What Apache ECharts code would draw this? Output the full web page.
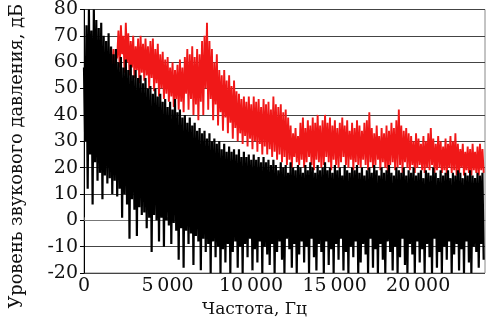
<!DOCTYPE html>
<html>
<head>
<meta charset="utf-8">
<script src="https://cdn.jsdelivr.net/npm/echarts@6/dist/echarts.min.js"></script>
<style>
html,body{margin:0;padding:0;background:#fff;}
#chart{width:493px;height:323px;}
</style>
</head>
<body>
<div id="chart"></div>
<script>
// Frequency bin spacing (Hz) between successive spectrum samples
const binHz = 73.6;
const redStartHz = 1620;

// Black spectrum: alternating local maxima / minima (dB)
const blackPeaks = [
  58,74,80,72,80,76,73,75,70,68,
  71,66,63,65,60,62,58,61,57,59,
  55,57,54,55,52,54,50,51,48,50,
  47,48,45,46,43,45,42,46,41,42,
  39,40,37,39,36,37,34,35,33,34,
  31,33,30,31,29,30,27,29,26,28,
  26,27,25,27,24,26,24,25,23,25,
  23,24,22,24,22,23,21,23,21,19,
  22,20,21,18,22,20,19,21,20,18,
  21,19,22,20,18,21,19,20,22,19,
  20,18,21,19,20,17,21,19,18,20,
  19,21,18,20,17,19,20,18,21,19,
  17,20,18,19,21,18,17,20,19,18,
  20,17,19,18,20,17,18,19,16,19,
  18,17,20,18,16,19,17,18,19,16,
  18,17,19,18,16,18,17,19,17,16,
  18,17,18
];
const blackDips = [
  30,12,25,6,22,15,18,8,17,14,
  16,10,15,9,12,1,10,6,-7,8,
  4,-6,5,2,3,-3,1,-12,2,0,
  -8,1,-10,0,-2,-9,-1,-4,-15,-3,
  -18,-4,-9,-5,-17,-6,-8,-19,-7,-12,
  -9,-20,-8,-14,-10,-20,-11,-16,-9,-20,
  -12,-8,-18,-10,-20,-9,-14,-7,-19,-11,
  -16,-8,-20,-10,-13,-17,-9,-20,-12,-8,
  -15,-20,-7,-11,-18,-9,-20,-13,-8,-16,
  -10,-20,-7,-14,-19,-9,-12,-20,-8,-17,
  -11,-20,-9,-15,-7,-19,-12,-20,-10,-14,
  -8,-20,-16,-9,-13,-20,-7,-18,-11,-20,
  -9,-15,-20,-8,-12,-19,-10,-20,-14,-7,
  -17,-20,-9,-13,-20,-8,-16,-11,-20,-9,
  -14,-20,-7,-18,-12,-20,-10,-15,-8,-20,
  -13,-9,-19,-11,-20,-8,-16,-20,-10,-12,
  -18,-9,-15
];

// Red spectrum: alternating local maxima / minima (dB), starting at redStartHz
const redPeaks = [
  62,65,61,72,74,70,75,71,68,70,
  66,69,70,67,69,66,68,69,65,67,
  63,64,61,62,58,60,57,59,61,58,
  62,65,63,66,62,65,63,68,70,75,
  68,65,60,63,57,55,57,53,55,51,
  53,49,48,46,47,45,47,44,47,45,
  46,43,46,44,45,42,47,44,43,44,
  41,42,39,36,33,35,32,37,39,35,
  38,36,39,37,40,36,38,40,37,39,
  36,38,35,37,39,36,38,34,37,35,
  38,36,34,37,38,41,35,33,36,32,
  35,33,36,34,37,35,38,42,36,34,
  35,33,32,30,33,31,29,32,30,33,
  35,31,29,32,30,28,31,29,32,30,
  33,29,27,29,26,28,27,29,26,28,
  29,27
];
const redDips = [
  58,55,62,58,63,56,60,55,58,54,
  57,52,56,53,55,50,54,49,52,47,
  50,46,48,45,47,43,46,42,45,41,
  48,42,46,40,44,38,45,40,50,42,
  46,38,44,36,41,34,39,33,37,31,
  35,30,33,29,32,28,31,27,30,26,
  29,25,28,25,27,24,26,23,25,22,
  24,21,23,20,24,22,21,23,20,22,
  24,21,19,23,22,20,21,24,22,19,
  23,21,20,22,24,21,20,23,19,22,
  21,20,23,21,19,22,20,21,23,19,
  22,20,18,21,22,19,20,21,18,22,
  20,19,21,18,20,21,19,18,20,19,
  21,18,19,20,18,19,17,20,18,19,
  17,18,20,17,19,18,17,19,18,17,
  19,18
];

const xTickValues = [0, 5000, 10000, 15000, 20000];
const xTickLabels = ['0', '5\u2009000', '10\u2009000', '15\u2009000', '20\u2009000'];
const yTickValues = [-20, -10, 0, 10, 20, 30, 40, 50, 60, 70, 80];

function interleave(peaks, dips, startHz) {
  const out = [];
  const n = Math.min(peaks.length, dips.length);
  for (let i = 0; i < n; i++) {
    out.push([startHz + 2 * i * binHz, peaks[i]]);
    out.push([startHz + (2 * i + 1) * binHz, dips[i]]);
  }
  return out;
}

const font = 'DejaVu Serif';
const chart = echarts.init(document.getElementById('chart'), null, {renderer: 'canvas'});
chart.setOption({
  animation: false,
  backgroundColor: '#fff',
  grid: {left: 78, right: 8, top: 8, bottom: 48, show: true, borderColor: '#888', borderWidth: 1},
  xAxis: {
    type: 'value', min: 0, max: 24000, interval: 5000,
    name: 'Частота, Гц', nameLocation: 'middle', nameGap: 28,
    nameTextStyle: {fontFamily: font, fontSize: 17, color: '#111', padding: [0, 60, 0, 0]},
    axisLine: {show: true, lineStyle: {color: '#777', width: 1}},
    axisTick: {show: true, inside: true, length: 3, lineStyle: {color: '#555'}},
    splitLine: {show: false},
    axisLabel: {
      fontFamily: font, fontSize: 19, color: '#111', margin: 4, showMaxLabel: false,
      formatter: function (v) {
        const idx = xTickValues.indexOf(v);
        return idx >= 0 ? xTickLabels[idx] : '';
      }
    }
  },
  yAxis: {
    type: 'value', min: yTickValues[0], max: yTickValues[yTickValues.length - 1], interval: 10,
    name: 'Уровень звукового давления, дБ', nameLocation: 'middle', nameGap: 58,
    nameTextStyle: {fontFamily: font, fontSize: 17.8, color: '#111', padding: [0, 30, 0, 0]},
    axisLine: {show: true, lineStyle: {color: '#000', width: 1}},
    axisTick: {show: true, inside: false, length: 4, lineStyle: {color: '#000'}},
    splitLine: {show: true, lineStyle: {color: '#444', width: 1}},
    axisLabel: {fontFamily: font, fontSize: 19, color: '#111', margin: 6}
  },
  series: [
    {
      type: 'line', data: interleave(redPeaks, redDips, redStartHz),
      showSymbol: false, symbol: 'none',
      lineStyle: {color: '#f01818', width: 1.9, join: 'miter'}, z: 2
    },
    {
      type: 'line', data: interleave(blackPeaks, blackDips, 0),
      showSymbol: false, symbol: 'none',
      lineStyle: {color: '#000', width: 2.2, join: 'miter'}, z: 3
    }
  ]
});
</script>
</body>
</html>
